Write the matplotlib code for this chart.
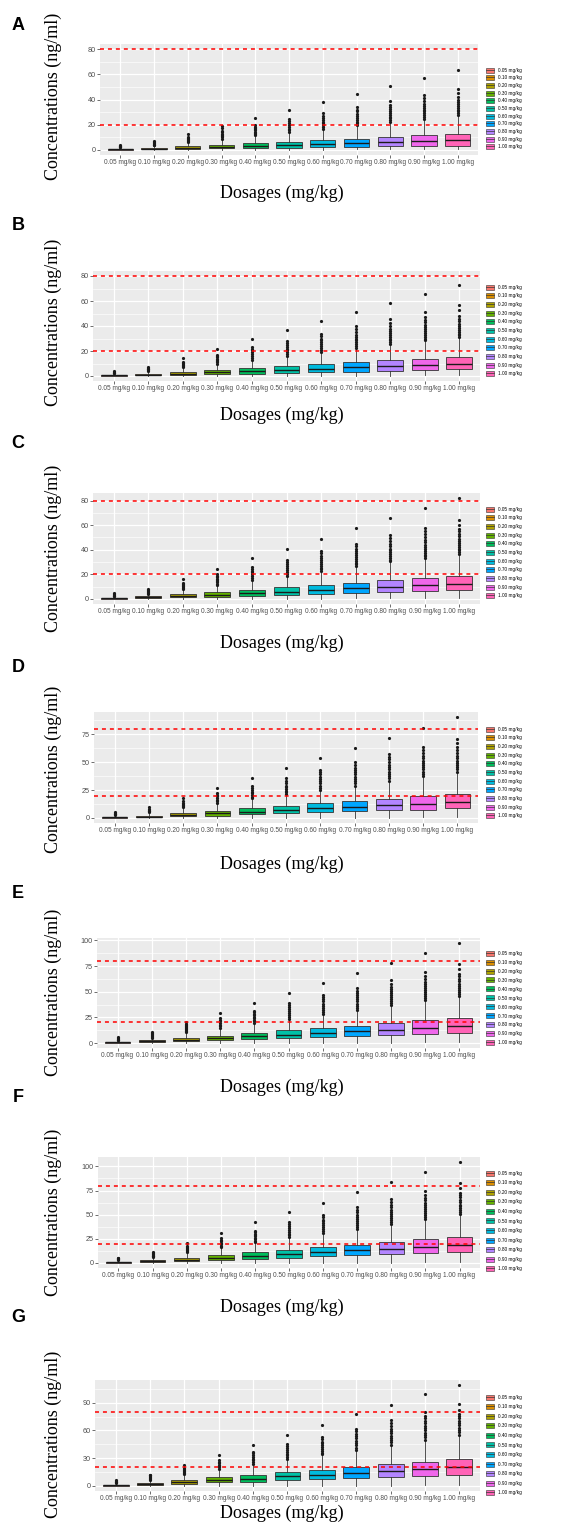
import matplotlib.pyplot as plt
from matplotlib.patches import Patch
from matplotlib.lines import Line2D
from matplotlib.ticker import MultipleLocator

plt.rcParams['font.family'] = ['Liberation Sans', 'DejaVu Sans']

# categories and ggplot hue palette
doses = ['0.05 mg/kg', '0.10 mg/kg', '0.20 mg/kg', '0.30 mg/kg', '0.40 mg/kg', '0.50 mg/kg',
         '0.60 mg/kg', '0.70 mg/kg', '0.80 mg/kg', '0.90 mg/kg', '1.00 mg/kg']
colors = ['#F8766D', '#DB8E00', '#AEA200', '#64B200', '#00BD5C', '#00C1A7',
          '#00BADE', '#00A6FF', '#B385FF', '#EF67EB', '#FF63B6']
thresholds = [20, 80]
whisker_lo = [0.0, 0.1, 0.1, 0.2, 0.2, 0.3, 0.3, 0.4, 0.4, 0.5, 0.5]

# ---- panel A
A_q1 = [0.2, 0.4, 0.9, 1.3, 1.6, 1.9, 2.2, 2.5, 2.8, 3.0, 3.5]
A_med = [0.5, 0.9, 1.7, 2.7, 3.3, 4.0, 4.8, 5.6, 6.3, 7.0, 8.0]
A_q3 = [1.0, 1.6, 3.0, 4.2, 5.3, 6.6, 7.7, 9.0, 10.2, 11.5, 13.0]
A_hi = [2.0, 3.4, 6.1, 8.5, 10.8, 13.5, 15.9, 18.7, 21.2, 24.0, 27.0]
A_out = [[2.2, 2.6, 3.0, 3.5, 3.9],
         [3.8, 4.3, 4.9, 5.5, 6.2, 7.0],
         [6.6, 7.2, 7.9, 8.6, 9.4, 10.3, 12.5],
         [9.0, 10, 11, 12, 13, 14, 15, 17.5, 19],
         [11.5, 12.5, 13.5, 14.5, 15.5, 16.5, 17.5, 18.5, 19.5, 25.5],
         [14, 15.5, 17, 18.5, 20, 21.5, 23, 24.5, 31.5],
         [16.5, 18, 19.5, 21, 22.5, 24, 25.5, 27, 29, 38],
         [19.5, 21, 22.5, 24, 25.5, 27, 28.5, 30.5, 32, 34, 44.5],
         [22, 23.5, 25, 26.5, 28, 29.5, 31, 32.5, 34, 36, 39, 51],
         [24.5, 26, 27.5, 29, 30.5, 32, 33.5, 35, 36.5, 38.5, 41, 43.5, 57],
         [27.5, 29, 30.5, 32, 33.5, 35, 36.5, 38, 40, 42, 45, 48.5, 63.5]]
A_ticks = [0, 20, 40, 60, 80]

# ---- panel B
B_q1 = [0.2, 0.5, 1.0, 1.5, 2.0, 2.5, 3.0, 3.5, 4.0, 4.5, 5.5]
B_med = [0.5, 1.0, 2.0, 2.9, 3.9, 5.0, 6.0, 7.0, 8.0, 9.0, 10.0]
B_q3 = [1.0, 1.8, 3.4, 4.8, 6.3, 7.8, 9.5, 11.0, 12.5, 14.0, 15.5]
B_hi = [2.0, 3.7, 6.8, 9.5, 12.5, 15.5, 19.0, 22.0, 25.0, 28.0, 30.5]
B_out = [[2.3, 2.8, 3.3, 3.9],
         [4.0, 4.6, 5.3, 6.0, 6.7, 7.5],
         [7.2, 8.0, 8.8, 9.6, 10.5, 11.5, 14.5],
         [10, 11, 12, 13, 14, 15, 16, 17, 22],
         [13, 14.5, 16, 17.5, 19, 20.5, 22, 23, 29.5],
         [16, 17.5, 19, 20.5, 22, 23.5, 25, 26.5, 28, 36.5],
         [19.5, 21, 22.5, 24, 25.5, 27, 28.5, 30, 32, 34, 44],
         [22.5, 24, 25.5, 27, 28.5, 30, 31.5, 33, 35, 37.5, 40, 51],
         [25.5, 27, 28.5, 30, 31.5, 33, 34.5, 36, 38, 40, 42.5, 45.5, 58.5],
         [28.5, 30, 31.5, 33, 34.5, 36, 37.5, 39, 41, 43, 45, 47.5, 51, 66],
         [31, 32.5, 34, 35.5, 37, 38.5, 40, 42, 44, 46, 48, 52.5, 56.5, 73]]
B_ticks = [0, 20, 40, 60, 80]

# ---- panel C
C_q1 = [0.2, 0.6, 1.2, 1.8, 2.5, 3.2, 4.0, 4.8, 5.5, 6.3, 7.0]
C_med = [0.5, 1.2, 2.3, 3.5, 4.8, 6.0, 7.5, 8.8, 10.0, 11.0, 12.5]
C_q3 = [1.0, 2.0, 3.9, 5.6, 7.5, 9.4, 11.2, 13.2, 15.2, 16.8, 18.5]
C_hi = [2.0, 4.0, 7.9, 11.0, 15.0, 18.5, 22.0, 25.8, 29.8, 32.5, 36.0]
C_out = [[2.3, 2.8, 3.4, 4.0, 4.5],
         [4.4, 5.1, 5.8, 6.5, 7.3, 8.3],
         [8.3, 9.0, 9.8, 10.6, 11.5, 12.3, 13.2, 16.5],
         [11.5, 12.5, 13.5, 14.5, 15.5, 16.5, 17.5, 18.5, 20, 24.5],
         [15.5, 17, 18.5, 20, 21.5, 23, 24.5, 26, 33],
         [19, 20.5, 22, 23.5, 25, 26.5, 28, 30, 32, 41],
         [22.5, 24, 25.5, 27, 28.5, 30, 31.5, 33, 35, 37, 39, 49],
         [26.5, 28, 29.5, 31, 32.5, 34, 35.5, 37, 39, 41, 43, 45, 57.5],
         [30.5, 32, 33.5, 35, 36.5, 38, 39.5, 41, 43, 45, 47.5, 49.5, 52, 66],
         [33, 34.5, 36, 37.5, 39, 40.5, 42, 44, 46, 48, 50, 52.5, 55.5, 58, 74],
         [36.5, 38, 39.5, 41, 42.5, 44, 45.5, 47, 49, 51, 53, 55, 57, 60, 64, 82]]
C_ticks = [0, 20, 40, 60, 80]

# ---- panel D
D_q1 = [0.2, 0.6, 1.4, 2.2, 3.2, 4.2, 5.3, 6.0, 6.8, 7.5, 8.5]
D_med = [0.5, 1.3, 2.7, 4.0, 5.7, 7.3, 8.7, 10.0, 11.3, 12.5, 14.2]
D_q3 = [1.2, 2.2, 4.5, 6.5, 8.8, 11.0, 13.0, 15.0, 17.2, 19.3, 21.5]
D_hi = [2.5, 4.5, 9.0, 13.0, 17.0, 21.0, 24.5, 28.5, 32.8, 37.0, 41.0]
D_out = [[2.8, 3.3, 3.9, 4.5, 5.0],
         [5.0, 5.8, 6.6, 7.4, 8.3, 9.5],
         [9.5, 10.5, 11.5, 12.5, 13.5, 15, 18],
         [13.5, 15, 16.5, 18, 19.5, 21, 22, 27],
         [17.5, 19, 20.5, 22, 23.5, 25, 26.5, 28.5, 36],
         [21.5, 23, 24.5, 26, 27.5, 29, 31, 33, 35.5, 45],
         [25, 27, 29, 31, 33, 35, 37, 39, 41, 43, 54],
         [29, 31, 33, 35, 37, 39, 41, 43, 45, 47.5, 50, 63],
         [33.5, 35.5, 37.5, 39.5, 41.5, 43.5, 45.5, 47.5, 50, 52.5, 55, 57, 72],
         [37.5, 39.5, 41.5, 43.5, 45.5, 47.5, 49.5, 51.5, 53.5, 56, 58.5, 61, 64, 81],
         [41.5, 43.5, 45.5, 47.5, 49.5, 51.5, 53.5, 56, 58.5, 61, 64, 67, 71, 90.5]]
D_ticks = [0, 25, 50, 75]

# ---- panel E
E_q1 = [0.2, 0.7, 1.7, 2.6, 3.7, 4.8, 5.8, 6.8, 8.0, 9.0, 10.0]
E_med = [0.6, 1.5, 3.0, 4.6, 6.5, 8.1, 9.7, 11.5, 13.0, 14.6, 16.3]
E_q3 = [1.3, 2.5, 5.0, 7.3, 9.8, 12.2, 14.8, 17.0, 19.5, 22.0, 24.2]
E_hi = [2.6, 5.0, 10.0, 14.3, 19.0, 23.0, 28.0, 32.0, 36.5, 41.0, 45.0]
E_out = [[2.8, 3.4, 4.1, 4.8, 5.5],
         [5.3, 6.1, 7.0, 7.9, 8.8, 10.0, 10.5],
         [10.5, 11.5, 12.5, 13.5, 14.5, 15.5, 16.5, 17.5, 18.5, 20],
         [15, 16.5, 18, 19.5, 21, 22.5, 24, 29.5],
         [19.5, 21, 22.5, 24, 25.5, 27, 28.5, 30, 31.5, 39],
         [23.5, 25.5, 27.5, 29.5, 31.5, 33.5, 35.5, 37.5, 39, 48.5],
         [28.5, 30.5, 32.5, 34.5, 36.5, 38.5, 40.5, 42.5, 44.5, 47, 58.5],
         [32.5, 34.5, 36.5, 38.5, 40.5, 42.5, 44.5, 46.5, 48.5, 51, 54, 68],
         [37, 39, 41, 43, 45, 47, 49, 51, 53, 55, 58, 61.5, 78],
         [41.5, 43.5, 45.5, 47.5, 49.5, 51.5, 53.5, 55.5, 57.5, 59.5, 62, 65, 69.5, 87.5],
         [45.5, 47.5, 49.5, 51.5, 53.5, 55.5, 57.5, 60, 62.5, 65, 67, 72, 77, 97.5]]
E_ticks = [0, 25, 50, 75, 100]

# ---- panel F
F_q1 = [0.2, 0.8, 1.9, 3.0, 4.2, 5.5, 6.7, 7.8, 9.0, 10.0, 11.5]
F_med = [0.6, 1.7, 3.4, 5.2, 7.3, 9.2, 11.2, 13.0, 14.8, 16.8, 18.7]
F_q3 = [1.4, 2.8, 5.6, 8.2, 11.0, 13.8, 16.3, 18.8, 21.5, 24.3, 27.0]
F_hi = [2.8, 5.5, 11.0, 16.0, 21.0, 26.0, 30.5, 35.0, 40.0, 45.0, 50.0]
F_out = [[3.0, 3.6, 4.3, 5.0, 5.6],
         [5.8, 6.7, 7.6, 8.5, 9.5, 10.5, 11.0],
         [11.5, 12.5, 13.5, 14.5, 15.5, 16.5, 18, 21],
         [16.5, 18, 19.5, 21, 22.5, 24, 25.5, 31],
         [21.5, 23, 24.5, 26, 27.5, 29, 30.5, 32, 33.5, 42],
         [26.5, 28.5, 30.5, 32.5, 34.5, 36.5, 38.5, 40, 42, 52.5],
         [31, 33, 35, 37, 39, 41, 43, 45, 47.5, 50, 62],
         [35.5, 37.5, 39.5, 41.5, 43.5, 45.5, 47.5, 50, 52.5, 55, 58, 73],
         [40.5, 42.5, 44.5, 46.5, 48.5, 50.5, 52.5, 55, 57.5, 60, 63, 66, 84],
         [45.5, 47.5, 49.5, 51.5, 53.5, 55.5, 57.5, 60, 62.5, 65, 67.5, 70, 74.5, 94],
         [50.5, 52.5, 54.5, 56.5, 58.5, 60.5, 63, 65.5, 68, 70.5, 72, 77.5, 83, 104.5]]
F_ticks = [0, 25, 50, 75, 100]

# ---- panel G
G_q1 = [0.3, 0.9, 2.2, 4.0, 4.7, 6.2, 7.3, 8.3, 10.2, 11.2, 12.3]
G_med = [0.7, 1.9, 4.0, 6.5, 8.0, 10.5, 12.3, 14.2, 16.0, 17.8, 20.3]
G_q3 = [1.5, 3.1, 6.3, 9.5, 12.3, 15.2, 17.4, 20.3, 24.0, 26.1, 29.4]
G_hi = [3.0, 6.2, 12.4, 17.8, 23.0, 28.5, 33.5, 38.5, 44.0, 49.5, 55.0]
G_out = [[3.3, 4.0, 4.8, 5.5, 6.4],
         [6.5, 7.5, 8.5, 9.5, 10.5, 11.5, 12.3],
         [12.8, 13.8, 14.8, 15.8, 16.8, 18, 19.5, 22.5],
         [18.5, 20, 21.5, 23, 24.5, 26, 27.5, 33.7],
         [23.5, 25.5, 27.5, 29.5, 31.5, 33.5, 35.5, 37, 44.6],
         [29, 31, 33, 35, 37, 39, 41, 43, 45, 55.5],
         [34, 36, 38, 40, 42, 44, 46, 48, 50.5, 53, 66],
         [39, 41.5, 44, 46.5, 49, 51.5, 54, 56.5, 59, 62, 77.3],
         [44.5, 47, 49.5, 52, 54.5, 57, 59.5, 62, 65, 68, 71, 87.4],
         [50, 52.5, 55, 57.5, 60, 62.5, 65, 67.5, 70, 73, 76, 79.5, 99],
         [55.5, 58, 60.5, 63, 65.5, 68, 70.5, 73, 75.5, 78, 82.5, 88, 109]]
G_ticks = [0, 30, 60, 90]

panels = [
    ('A', A_q1, A_med, A_q3, A_hi, A_out, A_ticks),
    ('B', B_q1, B_med, B_q3, B_hi, B_out, B_ticks),
    ('C', C_q1, C_med, C_q3, C_hi, C_out, C_ticks),
    ('D', D_q1, D_med, D_q3, D_hi, D_out, D_ticks),
    ('E', E_q1, E_med, E_q3, E_hi, E_out, E_ticks),
    ('F', F_q1, F_med, F_q3, F_hi, F_out, F_ticks),
    ('G', G_q1, G_med, G_q3, G_hi, G_out, G_ticks),
]

# layout in pixels: panel rect (left, top, right, bottom), letter y, ylabel y, xlabel y, legend top/bottom
layout = [
    ((100, 44, 478, 155), 25, 96, 193, 66, 151),
    ((93, 271, 480, 381), 225, 322, 415, 283, 378),
    ((93, 493, 480, 604), 443, 548, 643, 505, 600),
    ((94, 712, 478, 823), 667, 769, 864, 725, 820),
    ((97, 938, 480, 1048), 893, 992, 1087, 949, 1047),
    ((98, 1157, 480, 1268), 1097, 1212, 1307, 1169, 1273),
    ((95, 1380, 480, 1491), 1317, 1434, 1513, 1393, 1497),
]

W, H = 563, 1540
fig = plt.figure(figsize=(W / 100, H / 100), dpi=100)

for (letter, q1, med, q3, hi, out, ticks), lay in zip(panels, layout):
    (l, t, r, b), ly, yly, xly, lgt, lgb = lay
    ax = fig.add_axes([l / W, 1 - b / H, (r - l) / W, (b - t) / H])
    ax.set_facecolor('#EBEBEB')

    stats = []
    for i in range(len(doses)):
        stats.append(dict(med=med[i], q1=q1[i], q3=q3[i], whislo=whisker_lo[i],
                          whishi=hi[i], fliers=out[i], label=doses[i]))
    bp = ax.bxp(stats, positions=range(1, len(doses) + 1), widths=0.75,
                patch_artist=True, showcaps=False,
                boxprops=dict(edgecolor='#333333', linewidth=0.6),
                medianprops=dict(color='#1A1A1A', linewidth=1.0),
                whiskerprops=dict(color='#333333', linewidth=0.6),
                flierprops=dict(marker='o', markerfacecolor='#1A1A1A',
                                markeredgecolor='none', markersize=2.3))
    for patch, c in zip(bp['boxes'], colors):
        patch.set_facecolor(c)

    for th in thresholds:
        ax.axhline(th, color='red', lw=1.1, ls=(0, (2.6, 2.6)), zorder=5)

    # ggplot-like scale expansion
    top = max(max(max(o) for o in out), max(thresholds))
    rng = top - 0
    ax.set_ylim(0 - 0.05 * rng, top + 0.05 * rng)
    ax.set_xlim(0.4, len(doses) + 0.6)
    ax.set_yticks(ticks)
    ax.yaxis.set_minor_locator(MultipleLocator((ticks[1] - ticks[0]) / 2))
    ax.set_xticks(range(1, len(doses) + 1))
    ax.set_xticklabels(doses, fontsize=4.7)

    ax.set_axisbelow(True)
    ax.grid(which='major', color='white', lw=0.9)
    ax.grid(which='minor', axis='y', color='white', lw=0.45)
    for s in ax.spines.values():
        s.set_visible(False)
    ax.tick_params(which='major', length=2.2, width=0.5, color='#333333',
                   labelsize=5.2, labelcolor='#4D4D4D', pad=1)
    ax.tick_params(axis='x', labelsize=4.7)
    ax.tick_params(which='minor', length=0)

    handles = [(Patch(facecolor=c, edgecolor='#333333', linewidth=0.4),
                Line2D([], [], color='#333333', lw=0.5)) for c in colors]
    fs = 3.4
    fs_px = fs * 100 / 72
    pitch = (lgb - lgt) / 10.0
    hh = 1.25
    ax.legend(handles, doses, loc='center left', frameon=False,
              bbox_to_anchor=(486 / W, 1 - (lgt + lgb) / 2 / H),
              bbox_transform=fig.transFigure, fontsize=fs,
              handlelength=1.7, handleheight=hh, handletextpad=0.8,
              labelspacing=(pitch - hh * fs_px) / fs_px,
              borderpad=0, borderaxespad=0)

    fig.text(18 / W, 1 - ly / H, letter, fontsize=13, fontweight='bold',
             ha='center', va='center')
    fig.text(53 / W, 1 - yly / H, 'Concentrations (ng/ml)', rotation=90,
             family='Liberation Serif', fontsize=13, ha='center', va='center')
    fig.text(282 / W, 1 - xly / H, 'Dosages (mg/kg)', family='Liberation Serif',
             fontsize=13, ha='center', va='center')

fig.savefig('out.png', dpi=100)
